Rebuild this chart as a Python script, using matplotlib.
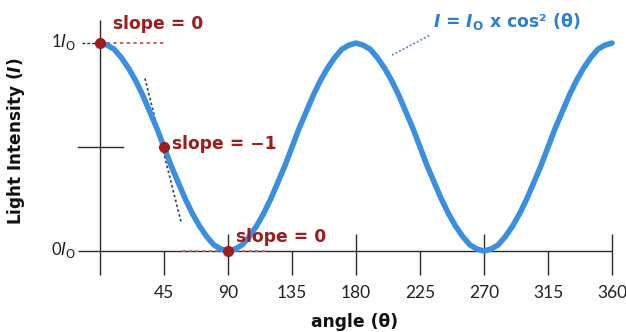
import matplotlib
matplotlib.use("Agg")
import matplotlib.pyplot as plt

plt.rcParams['mathtext.fontset'] = 'dejavusans'

# ---- data ----
angles = list(range(0, 361, 5))
intensity = [1.00, 0.99, 0.97, 0.93, 0.88, 0.82, 0.75, 0.67, 0.59, 0.50,
             0.41, 0.33, 0.25, 0.18, 0.12, 0.07, 0.03, 0.01, 0.00,
             0.01, 0.03, 0.07, 0.12, 0.18, 0.25, 0.33, 0.41, 0.50,
             0.59, 0.67, 0.75, 0.82, 0.88, 0.93, 0.97, 0.99, 1.00,
             0.99, 0.97, 0.93, 0.88, 0.82, 0.75, 0.67, 0.59, 0.50,
             0.41, 0.33, 0.25, 0.18, 0.12, 0.07, 0.03, 0.01, 0.00,
             0.01, 0.03, 0.07, 0.12, 0.18, 0.25, 0.33, 0.41, 0.50,
             0.59, 0.67, 0.75, 0.82, 0.88, 0.93, 0.97, 0.99, 1.00]
major_ticks = [90, 180, 270, 360]
minor_ticks = [45, 135, 225, 315]
tick_positions = [45, 90, 135, 180, 225, 270, 315, 360]
tick_labels = ['45', '90', '135', '180', '225', '270', '315', '360']
point_angles = [0, 45, 90]
point_values = [1.0, 0.5, 0.0]
slope_labels = ['slope = 0', 'slope = \u22121', 'slope = 0']

# ---- layout ----
fig = plt.figure(figsize=(6.26, 3.32), dpi=100)
ax = fig.add_axes([0, 0, 1, 1])
ax.set_xlim(-70.3, 369.8)
ax.set_ylim(-0.389, 1.207)
ax.axis('off')

axc = '#2b2b2b'
red = '#9e1c1c'
blue = '#3a8fdf'

# axes
ax.plot([0, 0], [-0.115, 1.11], color=axc, lw=1.0, solid_capstyle='butt')
ax.plot([-15.5, 360], [0, 0], color=axc, lw=1.0, solid_capstyle='butt')
ax.vlines(major_ticks, -0.115, 0.082, color=axc, lw=1.0)
ax.vlines(minor_ticks, -0.115, 0.0, color=axc, lw=1.0)
ax.plot([-15.5, 16], [0.5, 0.5], color=axc, lw=1.0)
ax.plot([-12.7, 0], [1, 1], color=axc, lw=1.0, ls=(0, (2, 1.5)))

for p, lab in zip(tick_positions, tick_labels):
    ax.text(p, -0.226, lab, ha='center', va='baseline', fontsize=12.5,
            family='Lato', color='#222222')

ax.text(-16.5, 0.981, r'1$\mathit{I}_{\mathrm{O}}$', ha='right', va='baseline',
        fontsize=12, family='Lato', color='#222222')
ax.text(-16.5, -0.019, r'0$\mathit{I}_{\mathrm{O}}$', ha='right', va='baseline',
        fontsize=12, family='Lato', color='#222222')

ax.text(179.3, -0.365, 'angle (\u03b8)', ha='center', va='baseline',
        fontsize=12.3, fontweight='bold', color='#111111')
ax.text(-59, 0.53, r'Light Intensity ($\mathbfit{I}$)', ha='center', va='center',
        rotation=90, fontsize=12.2, fontweight='bold', color='#111111')

# helper dotted lines
ax.plot([0, 45.7], [1, 1], color='#c04848', lw=1.2, ls=(0, (2, 2)))
ax.plot([31.6, 57.0], [0.83, 0.14], color='#3b3b55', lw=1.2, ls=(0, (1.5, 1.5)))
ax.plot([58, 117], [0, 0], color='#b87070', lw=1.2, ls=(0, (2, 2)))
ax.plot([205.3, 232.0], [0.942, 1.038], color='#5a86b8', lw=1.2, ls=(0, (1.2, 1.2)))

# curve
ax.plot(angles, intensity, color=blue, lw=4.0, solid_capstyle='round',
        solid_joinstyle='round', zorder=3)

# points
ax.plot(point_angles, point_values, 'o', color=red, ms=7, zorder=4, clip_on=False)

slope_pos = [(9.1, 1.067), (50.6, 0.49), (95.6, 0.043)]
for (x, y), lab in zip(slope_pos, slope_labels):
    ax.text(x, y, lab, ha='left', va='baseline', fontsize=12.3,
            fontweight='bold', color=red, zorder=5)

formula = r'$\mathbfit{I}$ = $\mathbfit{I}_{\mathbf{O}}$ x cos' + '\u00b2 (\u03b8)'
ax.text(234.1, 1.077, formula, ha='left', va='baseline', fontsize=12.4,
        fontweight='bold', color='#2f7fd0')

fig.savefig('out.png', dpi=100)
